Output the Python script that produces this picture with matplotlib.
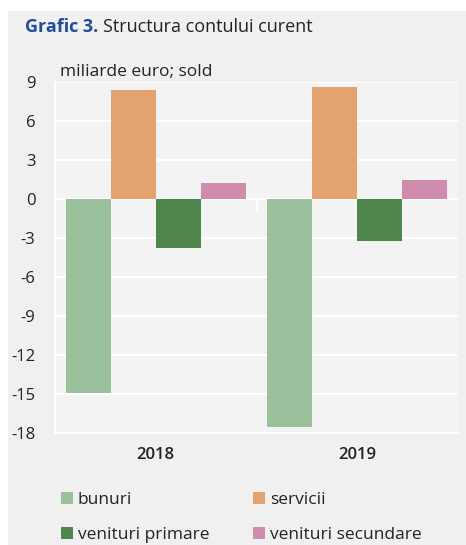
import numpy as np
import matplotlib.pyplot as plt
from matplotlib.patches import Rectangle

years = ["2018", "2019"]
series = ["bunuri", "servicii", "venituri primare", "venituri secundare"]
bunuri = [-14.9, -17.5]
servicii = [8.4, 8.6]
venituri_primare = [-3.8, -3.2]
venituri_secundare = [1.2, 1.5]
colors = ["#9bc09c", "#e2a370", "#4f864b", "#cf8cad"]
yticks = [9, 6, 3, 0, -3, -6, -9, -12, -15, -18]

fig = plt.figure(figsize=(4.66, 5.45), dpi=100, facecolor="white")
fig.patches.append(Rectangle((8 / 466, 0), 1, 1 - 11 / 545, transform=fig.transFigure,
                             facecolor="#f0f0f0", edgecolor="none", zorder=-10))

ax = fig.add_axes([55 / 466, 1 - 433 / 545, 403 / 466, (433 - 82) / 545])
ax.set_facecolor("#f3f3f3")

font = "Open Sans"
x = np.arange(len(years))
w = 0.223
vals = [bunuri, servicii, venituri_primare, venituri_secundare]
bars = []
for i, (name, v) in enumerate(zip(series, vals)):
    bars.append(ax.bar(x + (i - 1.5) * w, v, w, color=colors[i], label=name, zorder=3))

ax.set_xlim(-0.5, 1.5)
ax.set_ylim(-18, 9)
ax.set_yticks(yticks)
ax.set_yticklabels([str(t) for t in yticks], fontfamily=font, fontsize=12, color="#222222")
ax.yaxis.grid(True, color="white", linewidth=1.5, zorder=0)
ax.set_axisbelow(True)
ax.tick_params(axis="y", length=0, pad=14)
ax.set_xticks([])
for i, y_ in enumerate(years):
    ax.text(i, -19.7, y_, ha="center", va="center", fontfamily=font, fontsize=12,
            fontweight="semibold", color="#222222")
ax.vlines([0.5], -0.9, 0, color="white", linewidth=1.5, zorder=2)
for s in ["top", "right"]:
    ax.spines[s].set_visible(False)
for s in ["left", "bottom"]:
    ax.spines[s].set_color("white")
    ax.spines[s].set_linewidth(1.5)

ax.text(0.012, 1.005, "miliarde euro; sold", transform=ax.transAxes, ha="left", va="bottom",
        fontfamily=font, fontsize=12.5, color="#222222")

fig.text(25 / 466, 1 - 27 / 545, "Grafic 3.", ha="left", va="center", fontfamily=font,
         fontsize=13, fontweight="bold", color="#1f4e9c")
fig.text(103 / 466, 1 - 27 / 545, "Structura contului curent", ha="left", va="center",
         fontfamily=font, fontsize=13, color="#222222")

# row-major order: bunuri, servicii / venituri primare, venituri secundare
order = [0, 2, 1, 3]
fig.legend([bars[k] for k in order], [series[k] for k in order], ncol=2, loc="upper left",
           bbox_to_anchor=(45 / 466, 1 - 476 / 545), frameon=False,
           prop={"family": font, "size": 12.5}, handlelength=0.7, handleheight=0.7,
           handletextpad=0.3, columnspacing=2.5, labelspacing=1.1, labelcolor="#222222")

fig.savefig("out.png", dpi=100, facecolor=fig.get_facecolor())
